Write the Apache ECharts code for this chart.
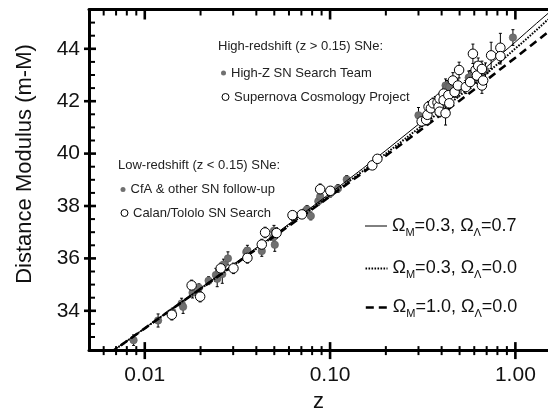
<!DOCTYPE html>
<html><head><meta charset="utf-8">
<script src="https://cdn.jsdelivr.net/npm/echarts@6/dist/echarts.min.js"></script>
<style>html,body{margin:0;padding:0;background:#fff}#c{width:548px;height:418px}</style>
</head><body><div id="c"></div>
<script>
// ---- data: [z, distance modulus, error] ----
const highZTeam = [
  [0.300,41.46,0.30],[0.385,41.73,0.20],[0.370,41.98,0.20],[0.410,41.92,0.20],
  [0.420,42.60,0.25],[0.428,42.54,0.25],[0.430,42.35,0.25],[0.440,42.54,0.20],
  [0.484,42.48,0.20],[0.490,42.41,0.25],[0.560,42.90,0.25],[0.570,42.92,0.25],
  [0.610,43.10,0.30],[0.690,43.16,0.30],[0.970,44.43,0.30]
];
const scpProject = [
  [0.169,39.55,0.15],[0.180,39.80,0.15],[0.312,41.23,0.20],[0.330,41.29,0.20],
  [0.335,41.48,0.25],[0.340,41.79,0.20],[0.350,41.73,0.25],[0.360,41.92,0.20],
  [0.380,41.95,0.20],[0.385,41.79,0.20],[0.390,42.10,0.20],[0.390,41.60,0.20],
  [0.410,42.29,0.20],[0.410,42.04,0.20],[0.420,41.54,0.45],[0.435,42.23,0.20],
  [0.440,41.92,0.20],[0.460,42.79,0.30],[0.470,42.35,0.20],[0.490,42.60,0.25],
  [0.497,43.19,0.30],[0.540,42.54,0.25],[0.570,42.73,0.25],[0.590,43.81,0.37],
  [0.610,43.19,0.30],[0.620,42.98,0.30],[0.630,43.35,0.30],[0.660,42.60,0.30],
  [0.660,43.23,0.30],[0.670,42.79,0.30],[0.740,43.75,0.50],[0.830,44.04,0.55],
  [0.830,43.72,0.30]
];
const cfaFollowUp = [
  [0.0087,32.88,0.20],[0.0118,33.63,0.25],[0.0141,33.95,0.15],[0.0158,34.28,0.20],
  [0.0161,34.15,0.25],[0.0181,34.69,0.20],[0.0196,34.88,0.15],[0.0221,35.15,0.15],
  [0.0242,35.37,0.25],[0.0246,35.22,0.30],[0.0252,35.52,0.20],[0.0262,35.40,0.35],
  [0.0266,35.77,0.20],[0.0281,36.00,0.25],[0.0353,36.24,0.15],[0.0358,36.30,0.20],
  [0.0428,36.28,0.20],[0.0494,36.80,0.20],[0.0498,37.06,0.20],[0.0503,36.52,0.25],
  [0.0627,37.60,0.15],[0.0738,37.80,0.15],[0.0751,37.87,0.15],[0.0787,37.62,0.15],
  [0.0864,38.18,0.15],[0.0884,38.36,0.15],[0.1003,38.49,0.15],[0.1103,38.67,0.15],
  [0.1230,39.01,0.15]
];
const calanTololo = [
  [0.0140,33.85,0.20],[0.0179,34.97,0.20],[0.0199,34.54,0.20],[0.0257,35.62,0.20],
  [0.0301,35.62,0.20],[0.0358,36.02,0.20],[0.0428,36.53,0.20],[0.0446,36.99,0.20],
  [0.0514,36.97,0.20],[0.0627,37.65,0.15],[0.0705,37.68,0.15],[0.0884,38.64,0.20],
  [0.1003,38.58,0.15]
];
// model curves
const modelZ      = [0.005,0.01,0.02,0.05,0.1,0.15,0.2,0.3,0.4,0.5,0.6,0.7,0.85,1.0,1.15,1.3,1.5];
const modelLambda = [31.82,33.34,34.86,36.90,38.48,39.43,40.12,41.12,41.85,42.42,42.90,43.31,43.83,44.26,44.64,44.97,45.35];
const modelOpen   = [31.82,33.33,34.84,36.86,38.41,39.33,40.00,40.96,41.65,42.21,42.67,43.06,43.57,44.01,44.38,44.72,45.12];
const modelFlat   = [31.82,33.33,34.84,36.84,38.37,39.27,39.92,40.84,41.51,42.02,42.45,42.81,43.28,43.66,44.00,44.29,44.64];
const modelNames  = ['ΩM=0.3, ΩΛ=0.7','ΩM=0.3, ΩΛ=0.0','ΩM=1.0, ΩΛ=0.0'];
// ticks
const xMajorTicks = [0.01, 0.1, 1];
const xTickLabels = ['0.01', '0.10', '1.00'];
const xMinorTicks = [0.006,0.007,0.008,0.009,0.02,0.03,0.04,0.05,0.06,0.07,0.08,0.09,0.2,0.3,0.4,0.5,0.6,0.7,0.8,0.9];
const yTickLabels = [34, 36, 38, 40, 42, 44];
const yMinorTicks = [33,33.5,34.5,35,35.5,36.5,37,37.5,38.5,39,39.5,40.5,41,41.5,42.5,43,43.5,44.5,45];

const X_MIN = 0.005, X_MAX = 1.5, Y_MIN = 32.5, Y_MAX = 45.5;
const FONT = '"Liberation Sans", Arial, Helvetica, sans-serif';

const chart = echarts.init(document.getElementById('c'), null, {renderer: 'canvas'});
const zip = (xs, ys) => xs.map((x, i) => [x, ys[i]]);
const allPoints = highZTeam.concat(scpProject, cfaFollowUp, calanTololo);

function tickSeries(values, kind, major) {
  return {
    type: 'custom', silent: true, z: 6, clip: false,
    data: values.map(v => kind === 'x' ? [v, Y_MIN] : [X_MIN, v]),
    renderItem: function (params, api) {
      const lw = major ? 2.6 : 2;
      const style = {stroke: '#000', lineWidth: lw};
      if (kind === 'x') {
        const v = api.value(0);
        const b = api.coord([v, Y_MIN]);
        const t = api.coord([v, Y_MAX]);
        const up = major ? 8 : 4, dn = major ? 9 : 5, tl = major ? 10 : 6;
        return {type: 'group', children: [
          {type: 'line', shape: {x1: b[0], y1: b[1] - up, x2: b[0], y2: b[1] + dn}, style: style},
          {type: 'line', shape: {x1: t[0], y1: t[1], x2: t[0], y2: t[1] + tl}, style: style}
        ]};
      } else {
        const v = api.value(1);
        const p = api.coord([X_MIN, v]);
        const out = major ? 5 : 0, inn = major ? 7 : 6;
        return {type: 'line', shape: {x1: p[0] - out, y1: p[1], x2: p[0] + inn, y2: p[1]}, style: style};
      }
    }
  };
}

function modelRich(name) {
  const m = name.match(/ΩM=([\d.]+), ΩΛ=([\d.]+)/);
  return '{g|Ω}{s|M}{g|=' + m[1] + ', Ω}{s|Λ}{g|=' + m[2] + '}';
}
const modelRichStyle = {
  g: {fontSize: 18, lineHeight: 24, verticalAlign: 'middle', fontFamily: FONT, color: '#111'},
  s: {fontSize: 11, lineHeight: 15, verticalAlign: 'bottom', fontFamily: FONT, color: '#111'}
};

function scatterLegend(name, left, centerY, size, open) {
  return {
    data: [name], left: left, top: centerY - 6.5, padding: 0, selectedMode: false,
    itemWidth: size, itemHeight: size, orient: 'vertical',
    itemStyle: open ? {color: '#fff', borderColor: '#000', borderWidth: 1} : {color: '#707070', borderWidth: 0},
    textStyle: {fontSize: 13, fontFamily: FONT, color: '#222'}
  };
}
function modelLegend(name, centerY, lineStyle) {
  return {
    data: [name], left: 364.5, top: centerY - 12, padding: 0, selectedMode: false,
    itemWidth: 22, itemHeight: 14, orient: 'vertical',
    lineStyle: lineStyle,
    itemStyle: {color: 'rgba(0,0,0,0)', borderColor: 'rgba(0,0,0,0)', borderWidth: 0, opacity: 0},
    formatter: modelRich,
    textStyle: {fontFamily: FONT, color: '#111', rich: modelRichStyle}
  };
}

const solidStyle  = {color: '#000', width: 1, type: 'solid'};
const dottedStyle = {color: '#000', width: 2, type: [1.6, 1.4]};
const dashedStyle = {color: '#000', width: 2.6, type: [8, 5]};

const option = {
  animation: false,
  backgroundColor: '#fff',
  textStyle: {fontFamily: FONT},
  grid: {left: 89, top: 9.5, right: -13, bottom: 60.5, containLabel: false},
  xAxis: [{
    type: 'log', logBase: 10, min: X_MIN, max: X_MAX, position: 'bottom',
    axisLine: {show: true, lineStyle: {color: '#000', width: 3}},
    axisTick: {show: false}, splitLine: {show: false}, minorTick: {show: false},
    axisLabel: {
      fontSize: 21, color: '#111', margin: 15, fontFamily: FONT,
      showMinLabel: false, showMaxLabel: false,
      formatter: function (v) {
        for (let i = 0; i < xMajorTicks.length; i++) {
          if (Math.abs(Math.log10(v) - Math.log10(xMajorTicks[i])) < 1e-6) return xTickLabels[i];
        }
        return '';
      }
    },
    name: 'z', nameLocation: 'middle', nameGap: 30,
    nameTextStyle: {fontSize: 22, color: '#111', fontFamily: FONT}
  }, {
    type: 'log', logBase: 10, min: X_MIN, max: X_MAX, position: 'top',
    axisLine: {show: true, lineStyle: {color: '#000', width: 3}},
    axisTick: {show: false}, axisLabel: {show: false}, splitLine: {show: false}
  }],
  yAxis: [{
    type: 'value', min: Y_MIN, max: Y_MAX, interval: 0.5, position: 'left',
    axisLine: {show: true, lineStyle: {color: '#000', width: 3}},
    axisTick: {show: false}, splitLine: {show: false},
    axisLabel: {
      fontSize: 21, color: '#111', margin: 9, fontFamily: FONT,
      formatter: function (v) { return yTickLabels.indexOf(Math.round(v * 100) / 100) >= 0 ? String(v) : ''; }
    }
  }],
  legend: [
    scatterLegend('High-Z SN Search Team', 221, 73, 5, false),
    scatterLegend('Supernova Cosmology Project', 221.5, 97, 7, true),
    scatterLegend('CfA & other SN follow-up', 120.5, 189.5, 5, false),
    scatterLegend('Calan/Tololo SN Search', 120.5, 213, 7, true),
    modelLegend(modelNames[0], 229, solidStyle),
    modelLegend(modelNames[1], 271.5, dottedStyle),
    modelLegend(modelNames[2], 310.5, dashedStyle)
  ],
  graphic: [
    {type: 'text', left: 218, top: 40, silent: true,
     style: {text: 'High-redshift (z > 0.15) SNe:', font: '13px ' + FONT, fill: '#222'}},
    {type: 'text', left: 118, top: 159, silent: true,
     style: {text: 'Low-redshift (z < 0.15) SNe:', font: '13px ' + FONT, fill: '#222'}},
    {type: 'text', x: 25, y: 164, rotation: Math.PI / 2, silent: true,
     style: {text: 'Distance Modulus (m-M)', font: '22px ' + FONT, fill: '#111', align: 'center', verticalAlign: 'middle'}}
  ],
  series: [
    {
      name: 'errorbars', type: 'custom', z: 2, silent: true,
      data: allPoints,
      encode: {x: 0, y: 1},
      renderItem: function (params, api) {
        const z = api.value(0), mu = api.value(1), e = api.value(2);
        const top = api.coord([z, mu + e]);
        const bot = api.coord([z, mu - e]);
        const st = {stroke: '#000', lineWidth: 1};
        return {type: 'group', children: [
          {type: 'line', shape: {x1: top[0], y1: top[1], x2: bot[0], y2: bot[1]}, style: st},
          {type: 'line', shape: {x1: top[0] - 1.5, y1: top[1], x2: top[0] + 1.5, y2: top[1]}, style: st},
          {type: 'line', shape: {x1: bot[0] - 1.5, y1: bot[1], x2: bot[0] + 1.5, y2: bot[1]}, style: st}
        ]};
      }
    },
    {name: 'High-Z SN Search Team', type: 'scatter', z: 3, data: highZTeam, encode: {x: 0, y: 1},
     symbol: 'circle', symbolSize: 7.5, itemStyle: {color: '#707070', borderColor: '#555', borderWidth: 0.5, opacity: 1}},
    {name: 'CfA & other SN follow-up', type: 'scatter', z: 3, data: cfaFollowUp, encode: {x: 0, y: 1},
     symbol: 'circle', symbolSize: 7.5, itemStyle: {color: '#707070', borderColor: '#555', borderWidth: 0.5, opacity: 1}},
    {name: modelNames[0], type: 'line', z: 4, data: zip(modelZ, modelLambda), symbol: 'none', showSymbol: false,
     lineStyle: solidStyle, itemStyle: {color: '#000'}, clip: true, silent: true},
    {name: modelNames[1], type: 'line', z: 4, data: zip(modelZ, modelOpen), symbol: 'none', showSymbol: false,
     lineStyle: dottedStyle, itemStyle: {color: '#000'}, clip: true, silent: true},
    {name: modelNames[2], type: 'line', z: 4, data: zip(modelZ, modelFlat), symbol: 'none', showSymbol: false,
     lineStyle: dashedStyle, itemStyle: {color: '#000'}, clip: true, silent: true},
    {name: 'Supernova Cosmology Project', type: 'scatter', z: 5, data: scpProject, encode: {x: 0, y: 1},
     symbol: 'circle', symbolSize: 9.5, itemStyle: {color: '#fff', borderColor: '#000', borderWidth: 1, opacity: 1}},
    {name: 'Calan/Tololo SN Search', type: 'scatter', z: 5, data: calanTololo, encode: {x: 0, y: 1},
     symbol: 'circle', symbolSize: 9.5, itemStyle: {color: '#fff', borderColor: '#000', borderWidth: 1, opacity: 1}},
    tickSeries(xMajorTicks, 'x', true),
    tickSeries(xMinorTicks, 'x', false),
    tickSeries(yTickLabels, 'y', true),
    tickSeries(yMinorTicks, 'y', false)
  ]
};
chart.setOption(option);
</script>
</body></html>
